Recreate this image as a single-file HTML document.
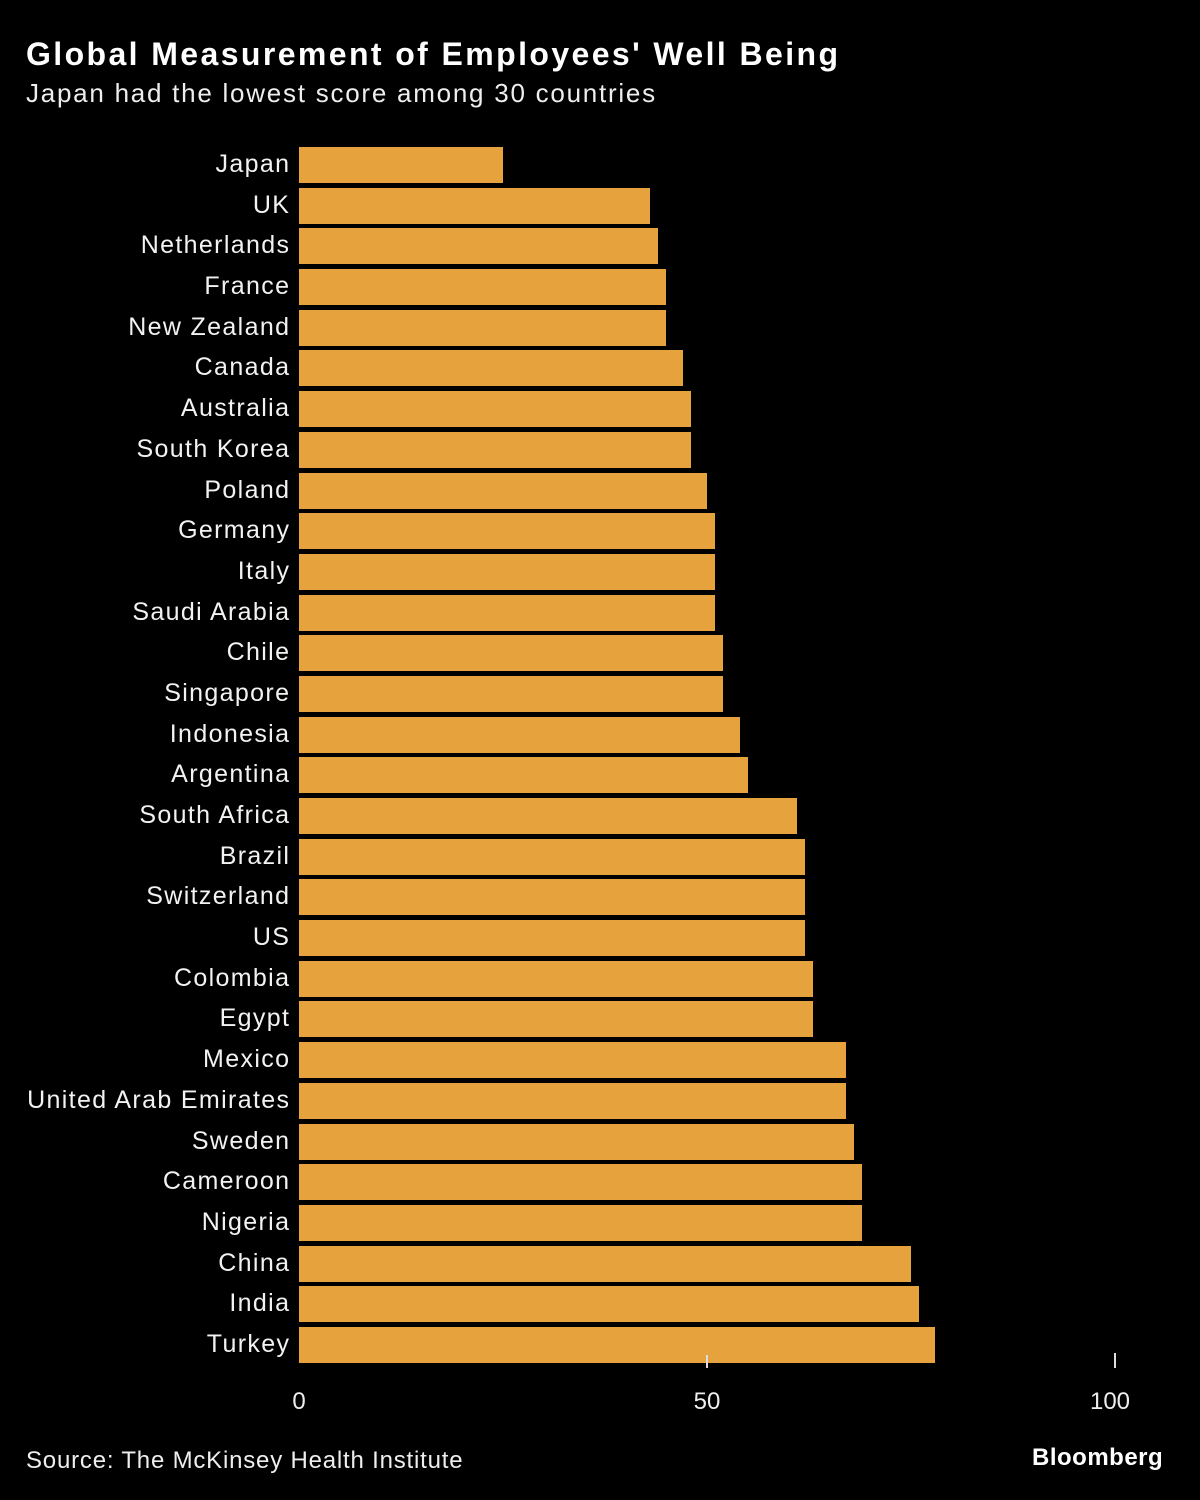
<!DOCTYPE html><html><head><style>
body{margin:0;width:1200px;height:1500px;background:#000;position:relative;overflow:hidden;font-family:"Liberation Sans",sans-serif;color:#fff}
.t{position:absolute;left:26px;top:36px;font-size:32px;font-weight:bold;letter-spacing:2.4px}
.s{position:absolute;left:26px;top:78px;font-size:26px;color:#eee;letter-spacing:1.75px}
.l{position:absolute;right:911px;font-size:25px;white-space:nowrap;line-height:36px;color:#f2f2f2;letter-spacing:1.35px;margin-right:-1.35px}
.b{position:absolute;left:299px;height:36px;background:#e6a23c}
.x{position:absolute;top:1388px;font-size:24px;transform:translateX(-50%);color:#eee}
</style></head><body>
<div class="t">Global Measurement of Employees' Well Being</div>
<div class="s">Japan had the lowest score among 30 countries</div>
<div id="c"></div>
<div style="position:absolute;left:706px;top:1355px;width:2px;height:13px;background:#ddd"></div>
<div style="position:absolute;left:1114px;top:1353px;width:2px;height:15px;background:#ddd"></div>
<div class="x" style="left:299px">0</div>
<div class="x" style="left:707px">50</div>
<div class="x" style="left:1110px">100</div>
<div style="position:absolute;left:26px;top:1447px;font-size:24px;color:#eee;letter-spacing:0.8px">Source: The McKinsey Health Institute</div>
<div style="position:absolute;left:1032px;top:1444px;font-size:24px;font-weight:bold;letter-spacing:0.5px">Bloomberg</div>
<script>
var d=[["Japan",25],["UK",43],["Netherlands",44],["France",45],["New Zealand",45],["Canada",47],["Australia",48],["South Korea",48],["Poland",50],["Germany",51],["Italy",51],["Saudi Arabia",51],["Chile",52],["Singapore",52],["Indonesia",54],["Argentina",55],["South Africa",61],["Brazil",62],["Switzerland",62],["US",62],["Colombia",63],["Egypt",63],["Mexico",67],["United Arab Emirates",67],["Sweden",68],["Cameroon",69],["Nigeria",69],["China",75],["India",76],["Turkey",78]];
var h="";d.forEach(function(r,i){var y=147+i*40.69;
h+='<div class="l" style="top:'+(y-1)+'px">'+r[0]+'</div><div class="b" style="top:'+y+'px;width:'+(r[1]*8.16)+'px"></div>';});
document.getElementById("c").innerHTML=h;
</script></body></html>
